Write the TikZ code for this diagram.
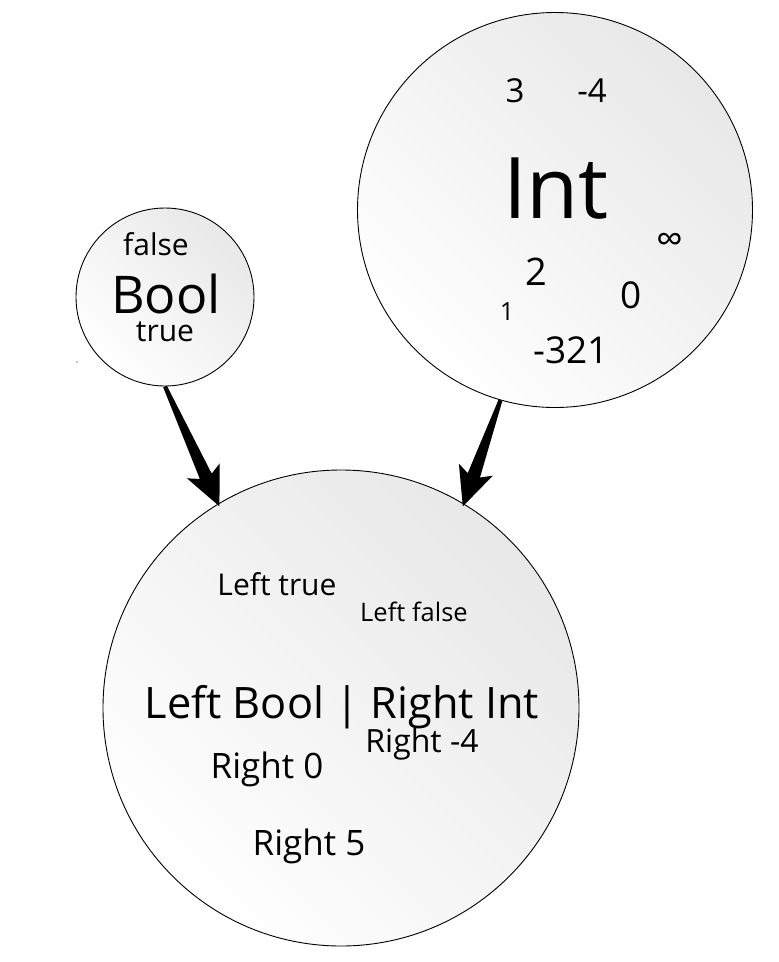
\documentclass[tikz,border=0pt]{standalone}
\usepackage{fontspec}
\setmainfont{Open Sans}
\usetikzlibrary{calc}
\tikzset{
  typecircle/.style={circle, draw=black, line width=0.9pt, inner sep=0pt,
    top color=black!9, bottom color=white, shading angle=-45},
  lbl/.style={anchor=base, inner sep=0pt},
}
\newcommand{\fs}[1]{\fontsize{#1}{#1}\selectfont}
\newcommand{\taperarrow}[2]{%
  \fill let \p1=(#1), \p2=(#2),
    \n1={atan2(\y2-\y1,\x2-\x1)},
    \n2={veclen(\x2-\x1,\y2-\y1)} in
    [shift={(\p1)}, rotate=\n1]
    (0pt,2pt) -- (\n2-30pt,6.5pt) -- (\n2-36pt,18pt) -- (\n2+3pt,0pt)
    -- (\n2-36pt,-18pt) -- (\n2-30pt,-6.5pt) -- (0pt,-2pt) -- cycle;}
\begin{document}
\begin{tikzpicture}[x=1pt,y=-1pt]
\useasboundingbox (0,0) rectangle (779,962);
% circles
\node[typecircle, minimum size=178pt] (bool) at (165,297) {};
\node[typecircle, minimum size=395pt] (int) at (555,210) {};
\node[typecircle, minimum size=476pt] (sum) at (341,708) {};
% Bool labels
\node[lbl] (bfalse) at (156,255) {\fs{30}false};
\node[lbl] (bname) at (166,313) {\fs{52}Bool};
\node[lbl] (btrue) at (165,341) {\fs{30}true};
% Int labels
\node[lbl] (iname) at (556,218) {\fs{85}Int};
\node[lbl] (i3) at (515,102) {\fs{33}3};
\node[lbl] (im4) at (592,102) {\fs{33}-4};
\node[lbl] (i2) at (536,285) {\fs{38}2};
\node[lbl] (i0) at (631,308) {\fs{37}0};
\node[lbl] (i1) at (507,320) {\fs{25}1};
\node[lbl] (im321) at (571,363) {\fs{37}-321};
\node[inner sep=0pt] (iinf) at (670,243) {\fs{38}∞};
% Sum labels
\node[lbl] (lt) at (277,595) {\fs{30}Left true};
\node[lbl] (lf) at (414,621) {\fs{25.5}Left false};
\node[lbl] (sname) at (342,718) {\fs{43.3}Left Bool | Right Int};
\node[lbl] (rm4) at (422,752) {\fs{32}Right -4};
\node[lbl] (r0) at (267,778) {\fs{35}Right 0};
\node[lbl] (r5) at (309,855) {\fs{35}Right 5};
% stray dot
\fill (77,362) circle (0.6pt);
% arrows
\taperarrow{bool.-90}{sum.121}
\taperarrow{int.-106.8}{sum.59.4}
\end{tikzpicture}
\end{document}
